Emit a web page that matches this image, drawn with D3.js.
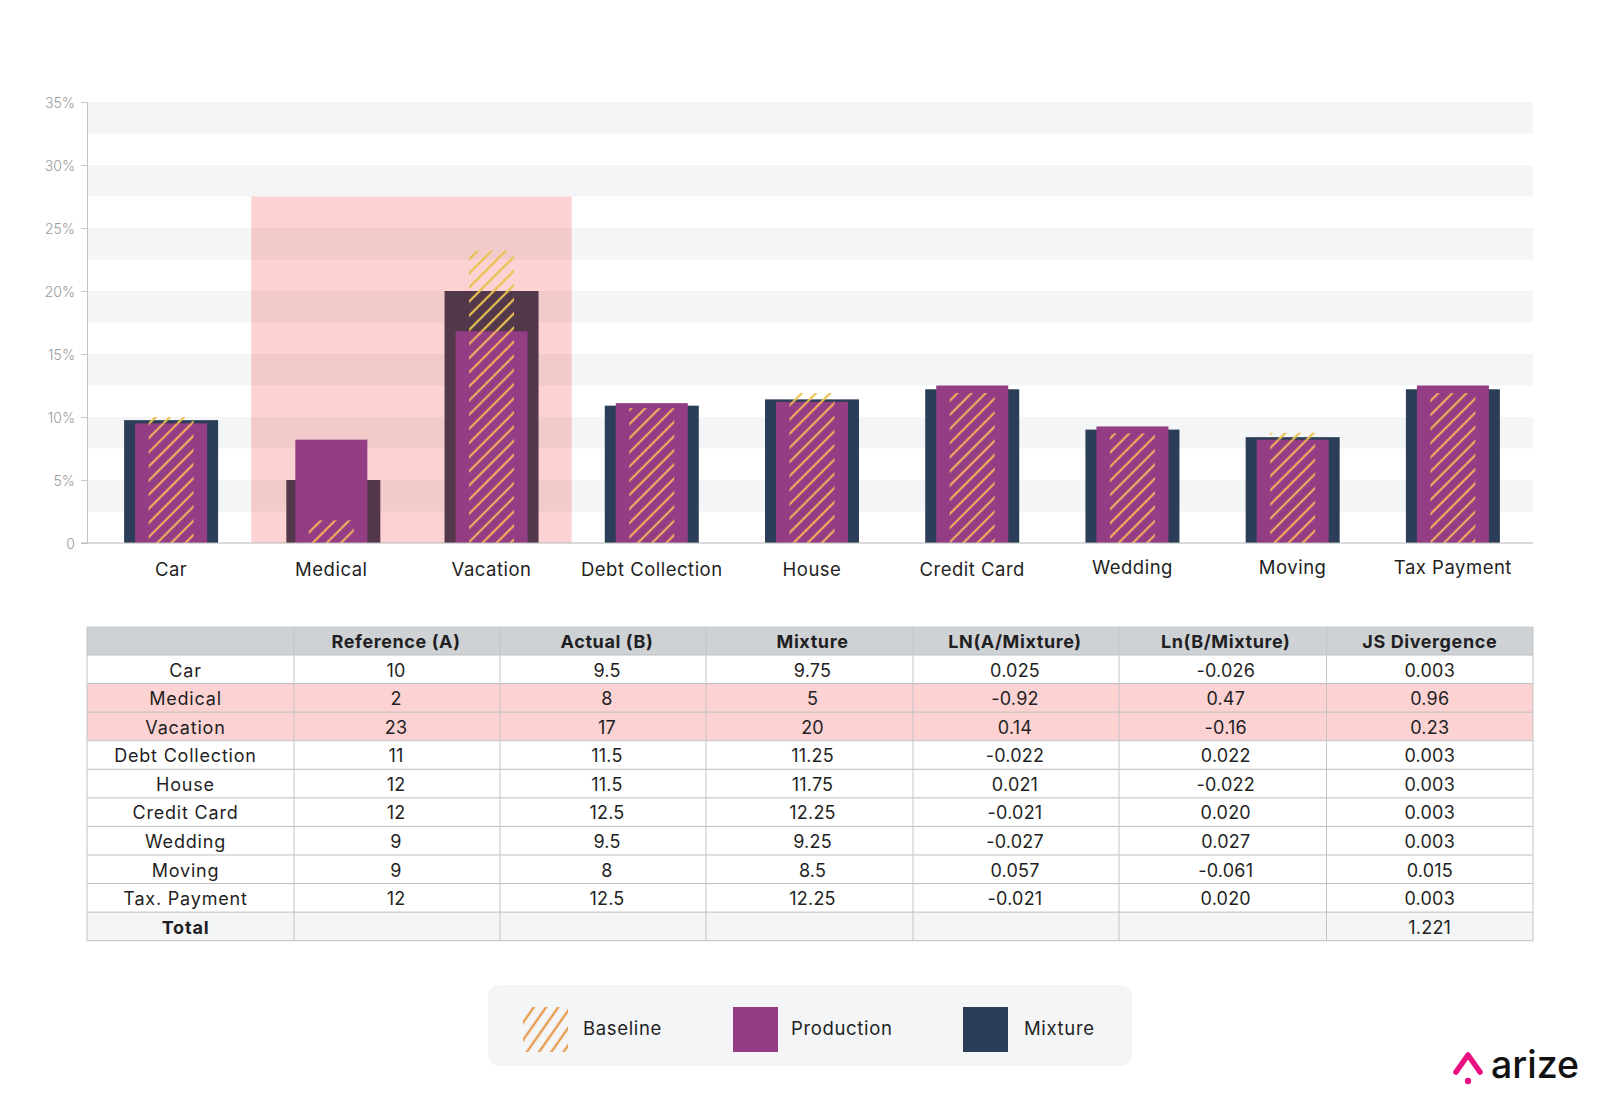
<!DOCTYPE html>
<html><head><meta charset="utf-8">
<script src="https://cdn.jsdelivr.net/npm/d3@7"></script>
<style>
html,body{margin:0;padding:0;background:#fff}
svg{display:block}
text{font-family:Inter,"Open Sans",sans-serif}
</style></head><body>
<svg id="c" width="1600" height="1103"></svg>
<script>
const categories=["Car","Medical","Vacation","Debt Collection","House","Credit Card","Wedding","Moving","Tax Payment"];
const baseline=[10,1.8,23.2,10.7,11.9,11.9,8.7,8.75,11.9];
const production=[9.5,8.2,16.8,11.1,11.2,12.5,9.25,8.2,12.5];
const mixture=[9.75,5,20,10.9,11.4,12.2,9,8.4,12.2];
const highlighted=["Medical","Vacation"];
const yTicks=[0,5,10,15,20,25,30,35];
const highlightTop=27.5;

const tableHeader=["","Reference (A)","Actual (B)","Mixture","LN(A/Mixture)","Ln(B/Mixture)","JS Divergence"];
const rowNames=["Car","Medical","Vacation","Debt Collection","House","Credit Card","Wedding","Moving","Tax. Payment","Total"];
const colA=["10","2","23","11","12","12","9","9","12",""];
const colB=["9.5","8","17","11.5","11.5","12.5","9.5","8","12.5",""];
const colMix=["9.75","5","20","11.25","11.75","12.25","9.25","8.5","12.25",""];
const colLnA=["0.025","-0.92","0.14","-0.022","0.021","-0.021","-0.027","0.057","-0.021",""];
const colLnB=["-0.026","0.47","-0.16","0.022","-0.022","0.020","0.027","-0.061","0.020",""];
const colJS=["0.003","0.96","0.23","0.003","0.003","0.003","0.003","0.015","0.003","1.221"];
const legendItems=["Baseline","Production","Mixture"];

const C={mix:"#2c3e57",prod:"#933d84",band:"#f3f5f6",ink:"#1f1f24",hatchOn:"#f5a85e",hatchOff:"#e9c24e"};
const svg=d3.select("#c");
const defs=svg.append("defs");
function hatch(id,color,size,w,rot){
  const p=defs.append("pattern").attr("id",id).attr("patternUnits","userSpaceOnUse")
    .attr("width",size).attr("height",size).attr("patternTransform",`rotate(${rot})`);
  p.append("line").attr("x1",size/2).attr("x2",size/2).attr("y1",0).attr("y2",size)
    .attr("stroke",color).attr("stroke-width",w);
}
hatch("hOn",C.hatchOn,10,2.2,45);
hatch("hOff",C.hatchOff,10,2.2,45);
hatch("hLeg","#e89c50",10,2.4,35);

const plotL=87,plotR=1533,plotT=102,plotB=543;
const x=d3.scaleBand().domain(categories).range([91,1533]);
const y=d3.scaleLinear().domain([0,35]).range([plotB,plotT]);
const cx=d=>x(d)+x.bandwidth()/2;
const idx=d=>categories.indexOf(d);

// alternating background bands
svg.append("g").selectAll("rect").data(yTicks.slice(1)).join("rect")
  .attr("x",plotL).attr("width",plotR-plotL)
  .attr("y",d=>y(d)).attr("height",d=>y(d-2.5)-y(d)).attr("fill",C.band);

// mixture
const mixW=94,prodW=72,baseW=45;
const mixNudge=d=>d==="Medical"?2:0;
svg.append("g").selectAll("rect").data(categories).join("rect")
  .attr("x",d=>cx(d)-mixW/2+mixNudge(d)).attr("width",mixW)
  .attr("y",d=>y(mixture[idx(d)])).attr("height",d=>plotB-y(mixture[idx(d)])).attr("fill",C.mix);

// highlight
svg.append("rect").attr("x",x(highlighted[0])).attr("width",x(highlighted[1])+x.bandwidth()-x(highlighted[0]))
  .attr("y",y(highlightTop)).attr("height",plotB-y(highlightTop)).attr("fill","rgba(240,30,30,0.2)");

// production
svg.append("g").selectAll("rect").data(categories).join("rect")
  .attr("x",d=>cx(d)-prodW/2).attr("width",prodW)
  .attr("y",d=>y(production[idx(d)])).attr("height",d=>plotB-y(production[idx(d)])).attr("fill",C.prod);

// baseline hatch: orange where it lies on production, yellow above it
const onProd=d=>Math.min(baseline[idx(d)],production[idx(d)]);
svg.append("g").selectAll("rect").data(categories).join("rect")
  .attr("x",d=>cx(d)-baseW/2).attr("width",baseW)
  .attr("y",d=>y(baseline[idx(d)])).attr("height",d=>y(onProd(d))-y(baseline[idx(d)])).attr("fill","url(#hOff)");
svg.append("g").selectAll("rect").data(categories).join("rect")
  .attr("x",d=>cx(d)-baseW/2).attr("width",baseW)
  .attr("y",d=>y(onProd(d))).attr("height",d=>plotB-y(onProd(d))).attr("fill","url(#hOn)");

// axes
const yAxis=svg.append("g").attr("transform",`translate(${plotL},0)`)
  .call(d3.axisLeft(y).tickValues(yTicks).tickSize(6).tickPadding(6).tickFormat(d=>d===0?"0":d+"%"));
yAxis.selectAll("path,line").attr("stroke","#c4c6c8");
yAxis.selectAll("text").attr("fill","#9a9a9a").attr("font-size",14).attr("font-weight",300)
  .attr("transform","translate(0,1)");
const xAxis=svg.append("g").attr("transform",`translate(0,${plotB})`)
  .call(d3.axisBottom(x).tickSize(0).tickPadding(20));
xAxis.select("path").attr("stroke","#b5b5b8").attr("d",`M${plotL-6},0H${plotR}`);
xAxis.selectAll("text").attr("fill",C.ink).attr("font-size",18.5).attr("font-weight",400)
  .attr("letter-spacing",0.5)
  .attr("transform",d=>["Wedding","Moving","Tax Payment"].includes(d)?"translate(0,-2)":null);

// table
const colEdges=[87,294,500,706,913,1119,1326.5,1533];
const colShift=[-5,-1,4,3,-1,3,0];
const tableTop=626.5,headH=28.5,rowH=28.57;
const columns=[rowNames,colA,colB,colMix,colLnA,colLnB,colJS];
const rowY=d3.scaleLinear().domain([0,10]).range([tableTop+headH,tableTop+headH+10*rowH]);
const colX=i=>(colEdges[i]+colEdges[i+1])/2+colShift[i];
const t=svg.append("g");
t.append("rect").attr("x",87).attr("y",tableTop).attr("width",1446).attr("height",headH).attr("fill","#cfd2d4");
t.selectAll(".rowbg").data(rowNames).join("rect").attr("class","rowbg")
  .attr("x",87).attr("width",1446).attr("y",(d,i)=>rowY(i)).attr("height",rowH)
  .attr("fill",d=>highlighted.includes(d)?"#fcd2d2":d==="Total"?"#f3f5f6":"#fff");
t.selectAll(".hl").data(d3.range(0,11)).join("line").attr("class","hl")
  .attr("x1",87).attr("x2",1533).attr("y1",d=>rowY(d)).attr("y2",d=>rowY(d)).attr("stroke","#bdbfc1");
t.selectAll(".vl").data(colEdges).join("line").attr("class","vl")
  .attr("x1",d=>d).attr("x2",d=>d).attr("y1",tableTop).attr("y2",rowY(10)).attr("stroke","#c2c4c6");
t.selectAll(".th").data(tableHeader).join("text").attr("class","th")
  .attr("x",(d,i)=>colX(i)).attr("y",tableTop+headH/2+1).attr("dy",".35em")
  .attr("text-anchor","middle").attr("font-size",18).attr("font-weight",700).attr("letter-spacing",0.6)
  .attr("fill",C.ink).text(d=>d);
columns.forEach((col,c)=>{
  t.append("g").selectAll("text").data(col).join("text")
    .attr("x",colX(c)).attr("y",(d,i)=>rowY(i)+rowH/2+1).attr("dy",".35em")
    .attr("text-anchor","middle").attr("font-size",18).attr("letter-spacing",c===0?0.8:0.2)
    .attr("font-weight",d=>d==="Total"?700:400).attr("fill",C.ink).text(d=>d);
});

// legend
const lg=svg.append("g");
lg.append("rect").attr("x",488).attr("y",985).attr("width",644).attr("height",81).attr("rx",11).attr("fill","#f3f5f7");
const swX=[523,733,963],txX=[583,791,1024];
lg.selectAll(".sw").data(legendItems).join("rect").attr("class","sw")
  .attr("x",(d,i)=>swX[i]).attr("y",1007).attr("width",45).attr("height",45)
  .attr("fill",(d,i)=>i===0?"url(#hLeg)":i===1?C.prod:C.mix);
lg.selectAll(".lt").data(legendItems).join("text").attr("class","lt")
  .attr("x",(d,i)=>txX[i]).attr("y",1029).attr("dy",".35em").attr("font-size",18.5).attr("letter-spacing",0.65)
  .attr("fill",C.ink).text(d=>d);

// logo
const logo=svg.append("g");
logo.append("path").attr("d","M1456,1072L1468,1055L1480,1072")
  .attr("fill","none").attr("stroke","#e6127f").attr("stroke-width",5.5).attr("stroke-linecap","round").attr("stroke-linejoin","round");
logo.append("circle").attr("cx",1468).attr("cy",1081).attr("r",3.2).attr("fill","#e6127f");
logo.append("text").attr("x",1491).attr("y",1078).attr("font-size",37.5).attr("font-weight",500).attr("fill","#111").text("arize");
</script>
</body></html>
